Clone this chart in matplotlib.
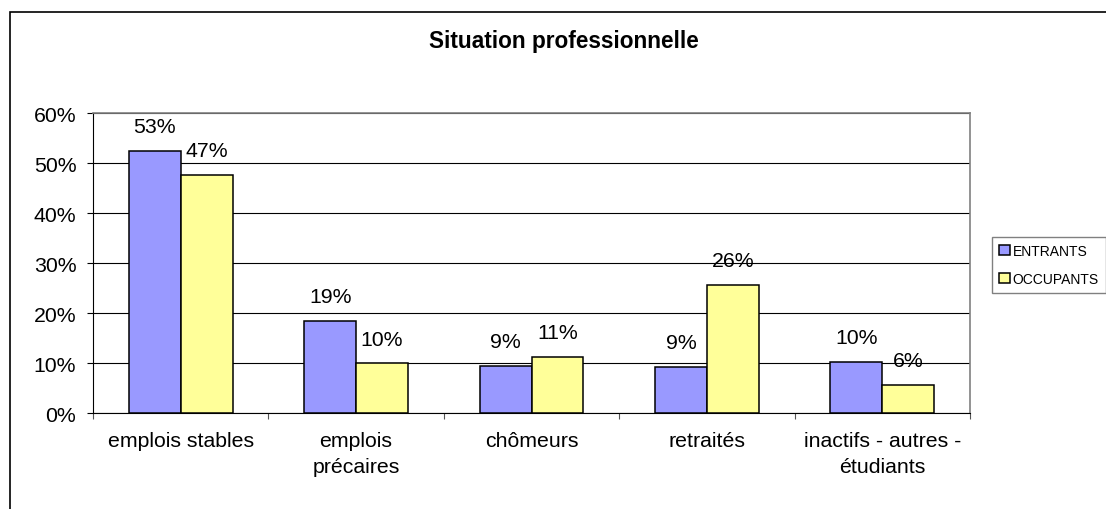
import numpy as np
import matplotlib
matplotlib.use('Agg')
import matplotlib.pyplot as plt
from matplotlib.patches import Rectangle

plt.rcParams['font.family'] = ['Liberation Sans', 'DejaVu Sans']

# donnees
categories = ['emplois stables', 'emplois\nprécaires', 'chômeurs', 'retraités',
              'inactifs - autres -\nétudiants']
entrants = [52.4, 18.4, 9.5, 9.3, 10.3]
occupants = [47.7, 10.0, 11.2, 25.7, 5.7]
labels_entrants = ['53%', '19%', '9%', '9%', '10%']
labels_occupants = ['47%', '10%', '11%', '26%', '6%']

fig = plt.figure(figsize=(11.06, 5.1), dpi=100)
ax = fig.add_axes([93 / 1106, 1 - 414.3 / 510, 877 / 1106, 300.3 / 510])

x = np.arange(len(categories))
w = 0.296
b1 = ax.bar(x - w / 2, entrants, w, color='#9999FF', edgecolor='black', linewidth=1.1,
            label='ENTRANTS', zorder=3)
b2 = ax.bar(x + w / 2, occupants, w, color='#FFFF99', edgecolor='black', linewidth=1.1,
            label='OCCUPANTS', zorder=3)

# etiquettes au dessus des barres
for bars, labs in [(b1, labels_entrants), (b2, labels_occupants)]:
    for r, lab in zip(bars, labs):
        ax.annotate(lab, (r.get_x() + r.get_width() / 2, r.get_height()),
                    xytext=(0, 13.5), textcoords='offset points',
                    ha='center', va='baseline', fontsize=15.3, zorder=4)

ax.set_xlim(-0.5, 4.5)
ax.set_ylim(0, 60)
ax.set_yticks(range(0, 61, 10))
ax.set_yticklabels([f'{v}%' for v in range(0, 61, 10)], fontsize=15.3)
ax.yaxis.grid(True, color='black', linewidth=0.8, zorder=0)

ax.set_xticks(x)
ax.set_xticklabels(categories, fontsize=15.3, linespacing=1.45)
ax.set_xticks(np.arange(-0.5, 5, 1), minor=True)
ax.tick_params(axis='x', which='major', length=0, pad=13)
ax.tick_params(axis='x', which='minor', length=4, width=0.8, color='#555555')
ax.tick_params(axis='y', length=4, width=0.8, pad=8)

for s in ['top', 'right']:
    ax.spines[s].set_color('#808080')
    ax.spines[s].set_linewidth(1.2)
for s in ['left', 'bottom']:
    ax.spines[s].set_color('black')
    ax.spines[s].set_linewidth(0.8)

fig.text(564 / 1106, 1 - 48 / 510, 'Situation professionnelle', fontsize=16.3,
         fontweight='bold', ha='center', va='baseline')

leg = fig.legend(handles=[b1, b2], loc='upper left',
                 bbox_to_anchor=(992 / 1106, 1 - 238 / 510), fontsize=10,
                 fancybox=False, edgecolor='#808080', framealpha=1,
                 handlelength=0.8, handleheight=0.8, handletextpad=0.2,
                 borderpad=0.5, labelspacing=1.0, borderaxespad=0)
leg.get_frame().set_linewidth(1.0)

# cadre du graphique
fig.patches.append(Rectangle((10 / 1106, -0.1), 2, 1 - 13 / 510 + 0.1,
                             transform=fig.transFigure, fill=False,
                             edgecolor='black', linewidth=1.2))

fig.savefig('out.png', dpi=100)
